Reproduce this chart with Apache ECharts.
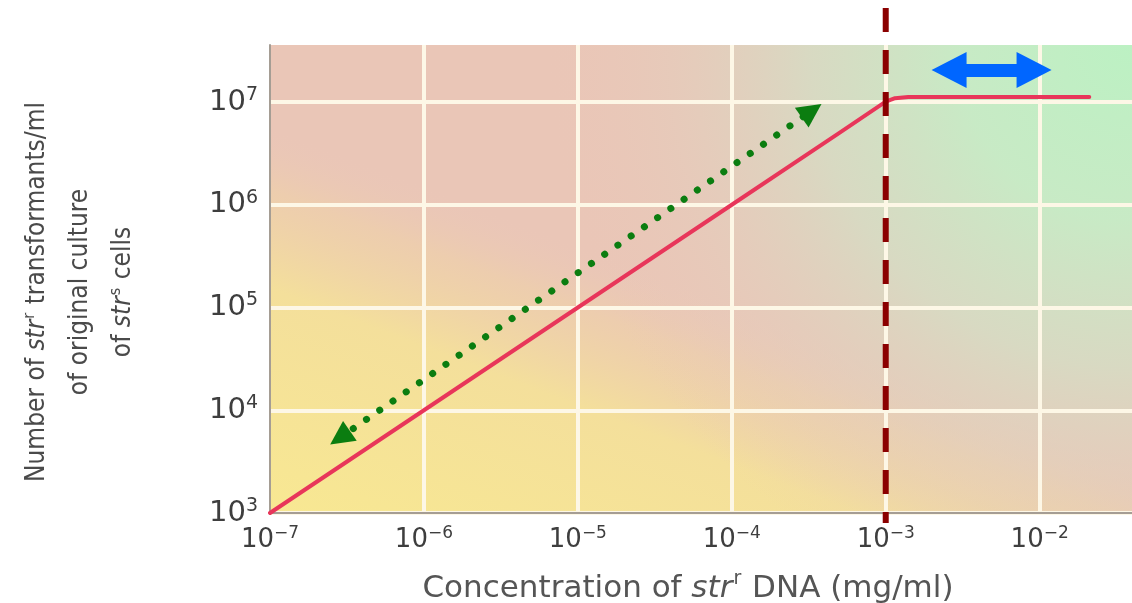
<!DOCTYPE html>
<html>
<head>
<meta charset="utf-8">
<script src="https://cdn.jsdelivr.net/npm/echarts@6/dist/echarts.min.js"></script>
<style>
  html, body { margin: 0; padding: 0; background: #fff; }
  #chart { width: 1132px; height: 603px; }
</style>
</head>
<body>
<div id="chart"></div>
<script>
// transformants vs. concentration of str-r DNA (log/log)
const concentration = [1e-7, 1e-5, 1e-4, 5e-4, 1e-3, 1.15e-3, 1.4e-3, 2.1e-2];
const transformants = [1e3, 1e5, 1e6, 5e6, 1.01e7, 1.09e7, 1.12e7, 1.12e7];

const xTickExponents = [-7, -6, -5, -4, -3, -2];
const yTickExponents = [3, 4, 5, 6, 7];
const xRange = [1e-7, 0.0398];
const yRange = [1e3, 3.59e7];

// annotations
const saturationConc = 1e-3;
const linearArrow = [[2.85e-7, 5.4e3], [3.3e-4, 8.2e6]];
const plateauArrow = [[2.58e-3, 2.05e7], [9.2e-3, 2.05e7]];

const GRID = { left: 270, right: 0, top: 45, bottom: 90, outerBoundsMode: "none" };
const TEXT_GRAY = "#3e3e3e";

const powerLabel = (exps) => (v) => {
  const e = Math.log10(v);
  const n = Math.round(e);
  if (Math.abs(e - n) > 1e-6 || exps.indexOf(n) < 0) return "";
  return "{b|10}{s|" + String(n).replace("-", "\u2212") + "}";
};

const tickRich = (size, supSize) => ({
  b: { fontSize: size, lineHeight: size + 4, fontFamily: "DejaVu Sans", color: TEXT_GRAY },
  s: { fontSize: supSize, lineHeight: supSize, fontFamily: "DejaVu Sans", color: TEXT_GRAY, verticalAlign: "top" },
});

// superscripts are raised with bottom padding so they follow each line
const nameRich = (font, size, color) => {
  const supSize = Math.round(size * 0.6);
  return {
    n: { fontFamily: font, fontSize: size, color: color },
    i: { fontFamily: font, fontSize: size, color: color, fontStyle: "italic" },
    sup: {
      fontFamily: font, fontSize: supSize, color: color,
      lineHeight: supSize, verticalAlign: "middle", padding: [0, 1, Math.round(size * 0.6), 1],
    },
  };
};

const yellowWash = {
  type: "linear", x: 0, y: 1, x2: 0.174, y2: 0.162,
  colorStops: [
    { offset: 0, color: "rgba(248,232,146,1)" },
    { offset: 0.5, color: "rgba(245,226,152,0.9)" },
    { offset: 0.72, color: "rgba(240,212,165,0.5)" },
    { offset: 0.86, color: "rgba(235,200,185,0)" },
  ],
};

const greenWash = {
  type: "radial", x: 1, y: 0, r: 1.25,
  colorStops: [
    { offset: 0, color: "rgba(188,241,195,1)" },
    { offset: 0.3, color: "rgba(198,236,198,0.95)" },
    { offset: 0.55, color: "rgba(210,224,198,0.75)" },
    { offset: 0.8, color: "rgba(224,210,192,0.3)" },
    { offset: 1, color: "rgba(233,200,185,0)" },
  ],
};

const option = {
  animation: false,
  backgroundColor: "#fff",
  grid: [
    Object.assign({ show: true, borderWidth: 0, backgroundColor: "#eac6b7" }, GRID),
    Object.assign({ show: true, borderWidth: 0, backgroundColor: yellowWash }, GRID),
    Object.assign({ show: true, borderWidth: 0, backgroundColor: greenWash }, GRID),
    { left: 270, right: 0, top: 8, bottom: 80, outerBoundsMode: "none" }, // taller grid for the dashed marker
  ],
  xAxis: [
    {
      type: "log",
      gridIndex: 0,
      min: xRange[0],
      max: xRange[1],
      z: 1,
      axisLine: { show: true, onZero: false, lineStyle: { color: "#a59d94", width: 2 } },
      axisTick: { show: false },
      splitLine: { show: true, showMinLine: false, showMaxLine: false, lineStyle: { color: "#fdf7e6", width: 4 } },
      axisLabel: { margin: 12, showMinLabel: true, showMaxLabel: false, formatter: powerLabel(xTickExponents), rich: tickRich(26, 17) },
      name: "{n|Concentration of }{i|str}{sup|r}{n| DNA (mg/ml)}",
      nameLocation: "middle",
      nameGap: 60,
      nameTextStyle: { padding: [0, 26, 0, 0], rich: nameRich("DejaVu Sans", 31, "#555") },
    },
    { type: "log", gridIndex: 3, min: xRange[0], max: xRange[1], show: false },
  ],
  yAxis: [
    {
      type: "log",
      gridIndex: 0,
      min: yRange[0],
      max: yRange[1],
      z: 1,
      axisLine: { show: true, onZero: false, lineStyle: { color: "#a59d94", width: 2 } },
      axisTick: { show: false },
      splitLine: { show: true, showMinLine: false, showMaxLine: false, lineStyle: { color: "#fdf7e6", width: 4 } },
      axisLabel: { margin: 12, showMinLabel: true, showMaxLabel: false, formatter: powerLabel(yTickExponents), rich: tickRich(29, 19) },
      name: "{n|Number of }{i|str}{sup|r}{n| transformants/ml}\n{n|of original culture}\n{n|of }{i|str}{sup|s}{n| cells}",
      nameLocation: "middle",
      nameRotate: 90,
      nameGap: 125,
      nameTextStyle: {
        lineHeight: 43,
        padding: [0, 26, 0, 0],
        rich: nameRich("Liberation Sans Narrow, DejaVu Sans Condensed, sans-serif", 26, "#4a4a4a"),
      },
    },
    { type: "value", gridIndex: 3, min: 0, max: 1, show: false },
  ],
  series: [
    {
      name: "transformants",
      type: "line",
      xAxisIndex: 0,
      yAxisIndex: 0,
      data: concentration.map((c, i) => [c, transformants[i]]),
      symbol: "none",
      lineStyle: { color: "#e8365a", width: 4, join: "round", cap: "round" },
      z: 4,
    },
    {
      name: "saturation",
      type: "line",
      xAxisIndex: 1,
      yAxisIndex: 1,
      data: [[saturationConc, 1], [saturationConc, 0]],
      symbol: "none",
      lineStyle: { color: "#8b0000", width: 6, type: [24, 18] },
      z: 5,
    },
    {
      name: "linear range",
      type: "line",
      xAxisIndex: 0,
      yAxisIndex: 0,
      data: [],
      markLine: {
        silent: true,
        symbol: ["triangle", "triangle"],
        symbolSize: [24, 24],
        label: { show: false },
        lineStyle: { color: "#0b7d10", width: 7, type: [0.1, 16], cap: "round", opacity: 1 },
        itemStyle: { color: "#0b7d10" },
        data: [[{ coord: linearArrow[0] }, { coord: linearArrow[1] }]],
      },
      z: 6,
    },
    {
      name: "plateau",
      type: "line",
      xAxisIndex: 0,
      yAxisIndex: 0,
      data: [],
      markLine: {
        silent: true,
        symbol: ["triangle", "triangle"],
        symbolSize: [36, 35],
        label: { show: false },
        lineStyle: { color: "#0066ff", width: 13, type: "solid", opacity: 1 },
        itemStyle: { color: "#0066ff" },
        data: [[{ coord: plateauArrow[0] }, { coord: plateauArrow[1] }]],
      },
      z: 6,
    },
  ],
};

const chart = echarts.init(document.getElementById("chart"));
chart.setOption(option);
</script>
</body>
</html>
